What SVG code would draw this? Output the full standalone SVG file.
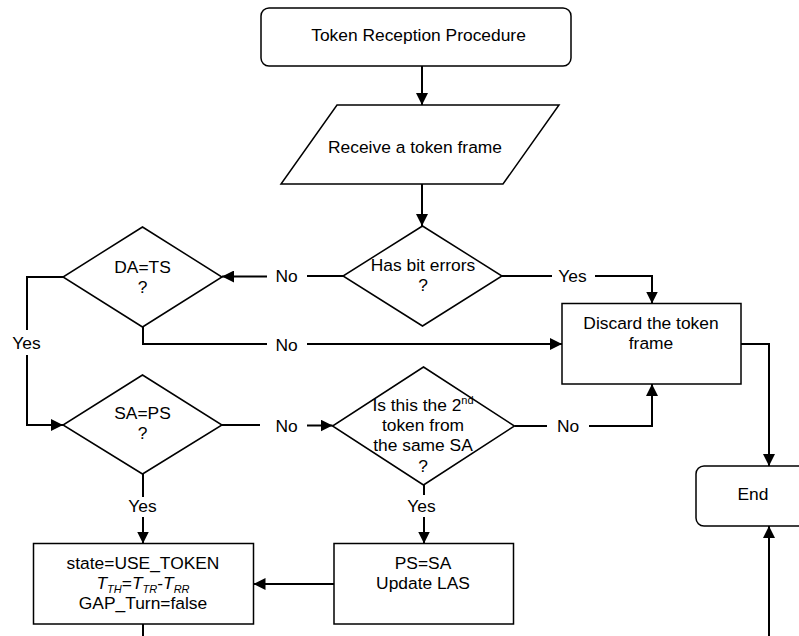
<svg xmlns="http://www.w3.org/2000/svg" width="799" height="636" viewBox="0 0 799 636">
<style>
.s{fill:#fff;stroke:#000;stroke-width:1.5}
.c{fill:none;stroke:#000;stroke-width:2}
text{font-family:"Liberation Sans",Arial,sans-serif;font-size:17.4px;fill:#000;text-anchor:middle}
.i{font-style:italic}
</style>
<defs>
<marker id="a" markerUnits="userSpaceOnUse" markerWidth="13" markerHeight="12" refX="12" refY="6" orient="auto">
<path d="M0,0 L12,6 L0,12 z" fill="#000"/>
</marker>
</defs>
<rect width="799" height="636" fill="#fff"/>
<g id="start">
<rect class="s" x="261" y="8" width="310" height="58" rx="8"/>
<text x="418.5" y="41">Token Reception Procedure</text>
</g>
<g id="receive">
<polygon class="s" points="337,105 559,105 503,184 281,184"/>
<text x="415" y="152.5">Receive a token frame</text>
</g>
<g id="biterrors">
<polygon class="s" points="422.5,226 502,276 422.5,326 343,276"/>
<text x="423" y="270.5">Has bit errors</text>
<text x="423" y="291">?</text>
</g>
<g id="dats">
<polygon class="s" points="142.5,227 222,277 142.5,327 63,277"/>
<text x="142.5" y="272.5">DA=TS</text>
<text x="142.5" y="292.5">?</text>
</g>
<g id="discard">
<rect class="s" x="562" y="303.5" width="179" height="80.5"/>
<text x="651" y="329">Discard the token</text>
<text x="651" y="349">frame</text>
</g>
<g id="saps">
<polygon class="s" points="142.5,375 222,425 142.5,474 63,425"/>
<text x="142.5" y="418.5">SA=PS</text>
<text x="142.5" y="439">?</text>
</g>
<g id="second">
<polygon class="s" points="423.5,367 514.5,426 423.5,485 332.5,426"/>
<text x="423" y="410.5">Is this the 2<tspan font-size="11" dy="-7">nd</tspan></text>
<text x="423" y="431">token from</text>
<text x="423" y="451">the same SA</text>
<text x="423" y="471.5">?</text>
</g>
<g id="end">
<rect class="s" x="696" y="466" width="116" height="60" rx="8"/>
<text x="753" y="500">End</text>
</g>
<g id="useToken">
<rect class="s" x="33.5" y="543.5" width="220" height="80.5"/>
<text x="143" y="569">state=USE_TOKEN</text>
<text x="143" y="588.5"><tspan class="i">T</tspan><tspan class="i" font-size="11" dy="4">TH</tspan><tspan dy="-4">=</tspan><tspan class="i">T</tspan><tspan class="i" font-size="11" dy="4">TR</tspan><tspan dy="-4">-</tspan><tspan class="i">T</tspan><tspan class="i" font-size="11" dy="4">RR</tspan></text>
<text x="143" y="609">GAP_Turn=false</text>
</g>
<g id="psSa">
<rect class="s" x="334" y="543.5" width="179.5" height="80.5"/>
<text x="423" y="569">PS=SA</text>
<text x="423" y="589">Update LAS</text>
</g>
<g id="connectors">
<path class="c" d="M422,66 V105" marker-end="url(#a)"/>
<path class="c" d="M422,184 V226" marker-end="url(#a)"/>
<path class="c" d="M502,276 H552"/>
<path class="c" d="M595,276 H652 V303.5" marker-end="url(#a)"/>
<path class="c" d="M343,276 H307"/>
<path class="c" d="M267,276.5 H222" marker-end="url(#a)"/>
<path class="c" d="M143,327 V344 H267"/>
<path class="c" d="M307,344 H562" marker-end="url(#a)"/>
<path class="c" d="M63,277 H27 V330"/>
<path class="c" d="M27,355 V425 H63" marker-end="url(#a)"/>
<path class="c" d="M222,425 H260"/>
<path class="c" d="M307,425.5 H332.5" marker-end="url(#a)"/>
<path class="c" d="M514.5,426 H547"/>
<path class="c" d="M589,426 H652 V384" marker-end="url(#a)"/>
<path class="c" d="M143,474 V497"/>
<path class="c" d="M143,517 V543.5" marker-end="url(#a)"/>
<path class="c" d="M424,485 V495"/>
<path class="c" d="M424,517 V543.5" marker-end="url(#a)"/>
<path class="c" d="M334,584 H253.5" marker-end="url(#a)"/>
<path class="c" d="M143,624 V636"/>
<path class="c" d="M741,344 H769 V466" marker-end="url(#a)"/>
<path class="c" d="M769,636 V526" marker-end="url(#a)"/>
<text x="572.5" y="281.5">Yes</text>
<text x="286.5" y="282">No</text>
<text x="286.5" y="350.5">No</text>
<text x="26.5" y="348.5">Yes</text>
<text x="286.5" y="431.5">No</text>
<text x="568" y="431.5">No</text>
<text x="142.5" y="511.5">Yes</text>
<text x="421.5" y="511.5">Yes</text>
</g>
</svg>
